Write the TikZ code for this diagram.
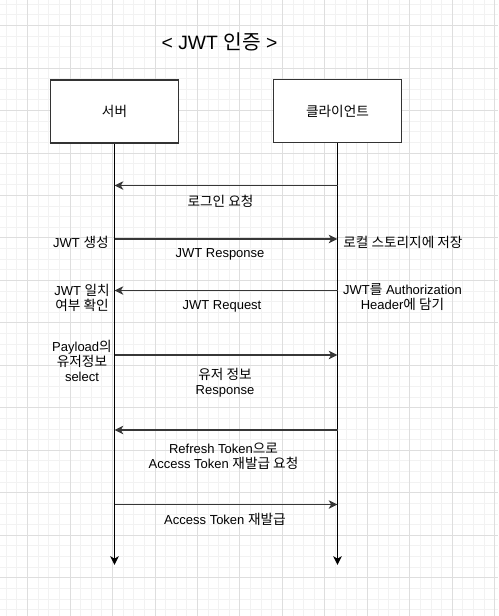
\documentclass[tikz,border=0pt]{standalone}
\usepackage{fontspec}
\setmainfont{Liberation Sans}
\newfontfamily\kr[Scale=1.05]{Noto Sans CJK KR}
\usetikzlibrary{arrows.meta,positioning}
\definecolor{gridminor}{RGB}{242,242,242}
\definecolor{gridmajor}{RGB}{222,222,222}
\definecolor{msgline}{RGB}{55,55,55}
\newcommand{\txt}{\fontsize{7.4}{8.6}\selectfont}
\newcommand{\titletxt}{\fontsize{11}{13}\selectfont}

\begin{document}
\begin{tikzpicture}[x=0.02cm,y=-0.02cm,line cap=butt,
 >={Stealth[length=5pt,width=4.8pt,inset=1.4pt]},
 actor/.style={draw=black!80,line width=0.75pt,fill=white,
  minimum width=2.56cm,minimum height=1.26cm,font=\txt},
 msg/.style={->,msgline,line width=0.7pt},
 lbl/.style={font=\txt,align=center,inner sep=0pt}]
\useasboundingbox (0,0) rectangle (498,616);
\fill[white] (0,0) rectangle (498,616);
% grid
\foreach \gx in {6.26,16.88,...,498}
 \draw[gridminor,line width=0.5pt] (\gx,0)--(\gx,616);
\foreach \gy in {4.26,14.88,...,616}
 \draw[gridminor,line width=0.5pt] (0,\gy)--(498,\gy);
\foreach \gx in {27.5,69.98,...,498}
 \draw[gridmajor,line width=0.5pt] (\gx,0)--(\gx,616);
\foreach \gy in {25.5,67.98,...,616}
 \draw[gridmajor,line width=0.5pt] (0,\gy)--(498,\gy);

\node[font=\titletxt,inner sep=0pt] (title) at (219.5,42) {< JWT {\kr 인증} >};

% lifelines
\coordinate (s-end) at (114.5,565);
\coordinate (c-end) at (337.5,565);
\draw[->,line width=0.75pt] (114.5,143) -- (s-end);
\draw[->,line width=0.75pt] (337.5,143) -- (c-end);
\node[actor] (server) at (114.5,111.5) {\kr 서버};
\node[actor] (client) at (337.5,111) {\kr 클라이언트};

\foreach \i/\yy in {1/185.5,2/239,3/290.5,4/355,5/430,6/504.5}{
 \coordinate (s\i) at (114.5,\yy);
 \coordinate (c\i) at (337.5,\yy);
}
% messages
\draw[msg] (c1) -- (s1);
\draw[msg] (s2) -- (c2);
\draw[msg] (c3) -- (s3);
\draw[msg] (s4) -- (c4);
\draw[msg] (c5) -- (s5);
\draw[msg] (s6) -- (c6);

\node[lbl] (m1) at (220.5,201.5) {\kr 로그인 요청};
\node[lbl] (m2) at (220,254.5) {JWT Response};
\node[lbl] (m3) at (222,306.5) {JWT Request};
\node[lbl] (m4) at (225,382.5) {{\kr 유저 정보}\\Response};
\node[lbl] (m5) at (223.5,456) {Refresh Token{\kr 으로}\\Access Token {\kr 재발급 요청}};
\node[lbl] (m6) at (225,519) {Access Token {\kr 재발급}};

% notes beside the lifelines
\node[lbl,anchor=east] (n-gen) at (109,242) {JWT {\kr 생성}};
\node[lbl] (n-check) at (82,297.5) {JWT {\kr 일치}\\{\kr 여부 확인}};
\node[lbl] (n-select) at (82,361) {Payload{\kr 의}\\{\kr 유저정보}\\select};
\node[lbl,anchor=west] (n-store) at (343,242.5) {\kr 로컬 스토리지에 저장};
\node[lbl] (n-header) at (402.5,297.5) {JWT{\kr 를} Authorization\\Header{\kr 에 담기}};
\end{tikzpicture}
\end{document}
